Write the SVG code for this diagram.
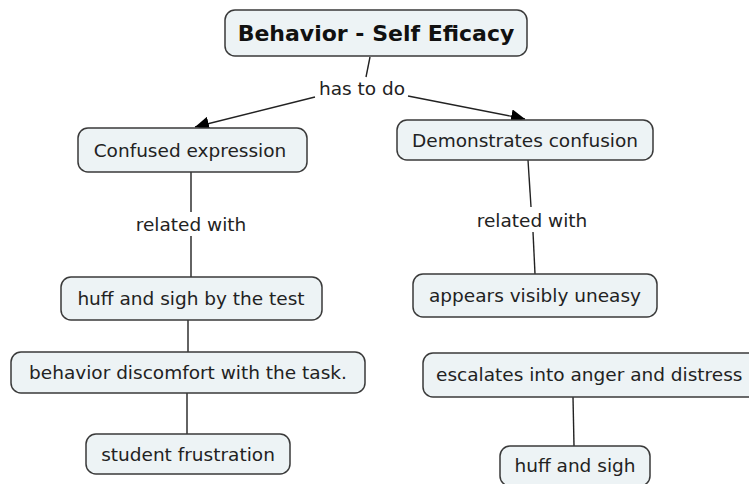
<svg xmlns="http://www.w3.org/2000/svg" width="749" height="484" viewBox="0 0 749 484">
<style>
.box{fill:#edf3f5;stroke:#3a3a3a;stroke-width:1.5}
.t{font-family:"DejaVu Sans",Verdana,sans-serif;font-size:18.5px;fill:#222;text-anchor:middle}
.b{font-weight:bold;font-size:22px;fill:#111}
.ln{stroke:#222;stroke-width:1.4;fill:none}
.lbl{font-family:"DejaVu Sans",Verdana,sans-serif;font-size:18.5px;fill:#222;text-anchor:middle}
</style>
<defs>
<marker id="ah" viewBox="0 0 10 10" refX="10" refY="5" markerWidth="14" markerHeight="14" markerUnits="userSpaceOnUse" orient="auto">
<path d="M0,0 L10,5 L0,10 z" fill="#000"/>
</marker>
</defs>
<rect width="749" height="484" fill="#fff"/>
<g id="connectors">
<line class="ln" x1="370" y1="57" x2="366" y2="77"/>
<line class="ln" x1="315" y1="97" x2="195" y2="127" marker-end="url(#ah)"/>
<line class="ln" x1="408" y1="96" x2="525" y2="119" marker-end="url(#ah)"/>
<line class="ln" x1="191" y1="172" x2="191" y2="212"/>
<line class="ln" x1="191" y1="236" x2="191" y2="277"/>
<line class="ln" x1="528" y1="160" x2="531" y2="207"/>
<line class="ln" x1="533" y1="232" x2="535" y2="274"/>
<line class="ln" x1="188" y1="320" x2="188" y2="352"/>
<line class="ln" x1="187" y1="393" x2="187" y2="434"/>
<line class="ln" x1="573" y1="397" x2="574" y2="446"/>
<text class="lbl" x="362" y="95">has to do</text>
<text class="lbl" x="191" y="231">related with</text>
<text class="lbl" x="532" y="227">related with</text>
</g>
<g id="n-title"><rect class="box" x="225" y="10" width="302" height="46" rx="10"/><text class="t b" x="376" y="41">Behavior - Self Eficacy</text></g>
<g id="n-confused"><rect class="box" x="78" y="128" width="229" height="44" rx="10"/><text class="t" x="190" y="157">Confused expression</text></g>
<g id="n-demonstrates"><rect class="box" x="397" y="120" width="256" height="40" rx="10"/><text class="t" x="525" y="147">Demonstrates confusion</text></g>
<g id="n-huff-test"><rect class="box" x="61" y="277" width="261" height="43" rx="10"/><text class="t" x="191" y="305">huff and sigh by the test</text></g>
<g id="n-behavior"><rect class="box" x="11" y="352" width="354" height="41" rx="10"/><text class="t" x="188" y="379">behavior discomfort with the task.</text></g>
<g id="n-student"><rect class="box" x="86" y="434" width="204" height="40" rx="10"/><text class="t" x="188" y="461">student frustration</text></g>
<g id="n-uneasy"><rect class="box" x="413" y="274" width="244" height="43" rx="10"/><text class="t" x="535" y="302">appears visibly uneasy</text></g>
<g id="n-escalates"><rect class="box" x="423" y="353" width="350" height="44" rx="10"/><text class="t" x="436" y="381" style="text-anchor:start">escalates into anger and distress</text></g>
<g id="n-huff"><rect class="box" x="500" y="446" width="150" height="40" rx="10"/><text class="t" x="575" y="472">huff and sigh</text></g>
</svg>
